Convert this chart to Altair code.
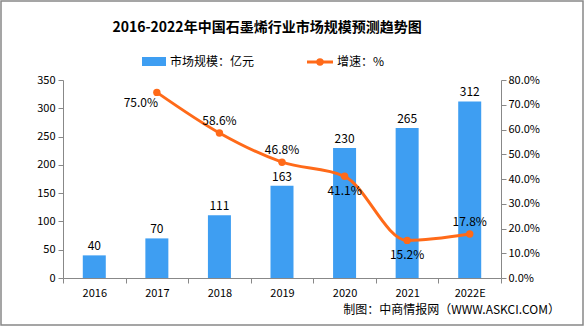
import altair as alt
import pandas as pd

years = ["2016", "2017", "2018", "2019", "2020", "2021", "2022E"]
market = [40, 70, 111, 163, 230, 265, 312]
growth = [None, 75.0, 58.6, 46.8, 41.1, 15.2, 17.8]

df = pd.DataFrame({"year": years, "market": market, "growth": growth})
df["glabel"] = [None if g is None else f"{g:.1f}%" for g in growth]

FONT = "Noto Sans CJK SC"
BLUE = "#3E9EF2"
ORANGE = "#FF6A19"
GRAY = "#888888"

xaxis = alt.Axis(labelAngle=0, tickBand="extent", domainColor=GRAY, tickColor=GRAY,
                 tickSize=5, labelFontSize=11, labelColor="#000", labelFont=FONT,
                 labelPadding=4, grid=False)
x = alt.X("year:N", sort=years, title=None,
          scale=alt.Scale(paddingInner=0.0, paddingOuter=0.0), axis=xaxis)

laxis = alt.Axis(values=[0, 50, 100, 150, 200, 250, 300, 350], grid=False,
                 domainColor=GRAY, tickColor=GRAY, tickSize=5,
                 labelFontSize=11, labelColor="#000", labelFont=FONT, labelPadding=3)
ly = alt.Y("market:Q", title=None, scale=alt.Scale(domain=[0, 350]), axis=laxis)

raxis = alt.Axis(orient="right", values=[0, 10, 20, 30, 40, 50, 60, 70, 80],
                 labelExpr="format(datum.value, '.1f') + '%'", grid=False,
                 domainColor=GRAY, tickColor=GRAY, tickSize=5,
                 labelFontSize=11, labelColor="#000", labelFont=FONT, labelPadding=2)
gy = alt.Y("growth:Q", title=None, scale=alt.Scale(domain=[0, 80]), axis=raxis)

base = alt.Chart(df).encode(x=x)

bars = base.mark_bar(size=23, color=BLUE).encode(y=ly)
bar_text = base.mark_text(dy=-9, fontSize=12, font=FONT, color="#000").encode(
    y=ly, text="market:Q")
left = alt.layer(bars, bar_text)

gline = base.transform_filter("datum.growth != null")
line = gline.mark_line(color=ORANGE, strokeWidth=3, interpolate="monotone").encode(y=gy)
pts = gline.mark_circle(color=ORANGE, size=55, opacity=1).encode(y=gy)

def glab(yrs, dx, dy):
    return gline.transform_filter(alt.FieldOneOfPredicate(field="year", oneOf=yrs)).mark_text(
        dx=dx, dy=dy, fontSize=12, font=FONT, color="#000").encode(y=gy, text="glabel:N")

glabels = [glab(["2017"], -16, 11), glab(["2018", "2019", "2022E"], 0, -12),
           glab(["2020", "2021"], 0, 15)]
right = alt.layer(line, pts, *glabels)

main = alt.layer(left, right).resolve_scale(y="independent")

# legend, title, footer and frame
deco = alt.Chart(pd.DataFrame({"a": [0]}))
leg_rect = deco.mark_rect(color=BLUE).encode(
    x=alt.value(79), x2=alt.value(103), y=alt.value(-23), y2=alt.value(-14))
leg_t1 = deco.mark_text(align="left", baseline="middle", fontSize=12, font=FONT, color="#000").encode(
    x=alt.value(107), y=alt.value(-18), text=alt.value("市场规模：亿元"))
leg_line = deco.mark_rule(color=ORANGE, strokeWidth=3).encode(
    x=alt.value(244), x2=alt.value(270), y=alt.value(-18))
leg_pt = deco.mark_circle(color=ORANGE, size=55, opacity=1).encode(
    x=alt.value(257), y=alt.value(-18))
leg_t2 = deco.mark_text(align="left", baseline="middle", fontSize=12, font=FONT, color="#000").encode(
    x=alt.value(274), y=alt.value(-18), text=alt.value("增速：%"))
title = deco.mark_text(align="center", baseline="middle", fontSize=14, fontWeight="bold",
                       font=FONT, color="#000").encode(
    x=alt.value(204), y=alt.value(-52), text=alt.value("2016-2022年中国石墨烯行业市场规模预测趋势图"))
footer = deco.mark_text(align="right", baseline="middle", fontSize=12, font=FONT, color="#000").encode(
    x=alt.value(497), y=alt.value(230), text=alt.value("制图：中商情报网（WWW.ASKCI.COM）"))
frame = deco.mark_rect(fill=None, stroke=GRAY, strokeWidth=1.5).encode(
    x=alt.value(-62), x2=alt.value(520), y=alt.value(-79), y2=alt.value(245))

chart = alt.layer(main, leg_rect, leg_t1, leg_line, leg_pt, leg_t2, title, footer, frame
).resolve_scale(y="independent").resolve_axis(x="independent", y="independent").properties(
    width=438, height=198,
    autosize=alt.AutoSizeParams(type="none"),
    padding={"left": 63, "top": 80, "right": 84, "bottom": 49},
    background="white"
).configure_view(stroke=None)

chart.save("out.html", embed_options={"renderer": "svg", "actions": False})
